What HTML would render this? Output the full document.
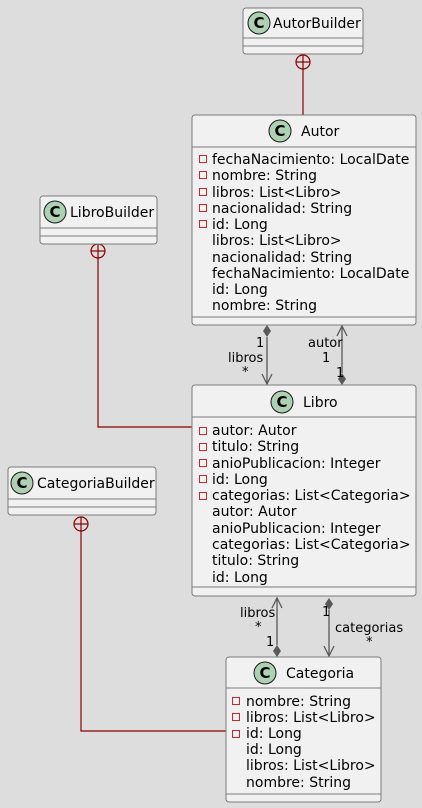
<!DOCTYPE html>
<html><head><meta charset="utf-8"><style>
html,body{margin:0;padding:0;background:#dddddd;}
svg{display:block;}
text{font-family:"DejaVu Sans","Liberation Sans",sans-serif;fill:#000;}
.a{font-size:14px;}
.n{font-size:14px;}
.l{font-size:13px;fill:#000;}
</style></head><body>
<svg width="422" height="808" viewBox="0 0 422 808" xmlns="http://www.w3.org/2000/svg">
<defs>
<g id="ci"><circle r="11" fill="#ADD1B2" stroke="#181818" stroke-width="1"/><text x="0" y="5" text-anchor="middle" style="font-size:15px;font-weight:bold">C</text></g>
<g id="pm"><rect x="-3.5" y="-3.5" width="7" height="7" fill="none" stroke="#C82930" stroke-width="1"/></g>
</defs>
<g stroke="#8B0000" stroke-width="1.2" fill="none">
<line x1="303" y1="69" x2="303" y2="115"/>
<circle cx="303" cy="62" r="7"/><line x1="296" y1="62" x2="310" y2="62"/><line x1="303" y1="55" x2="303" y2="69"/>
<polyline points="98,258 98,427 192,427"/>
<circle cx="98" cy="251" r="7"/><line x1="91" y1="251" x2="105" y2="251"/><line x1="98" y1="244" x2="98" y2="258"/>
<polyline points="81,531 81,731 226,731"/>
<circle cx="81" cy="524" r="7"/><line x1="74" y1="524" x2="88" y2="524"/><line x1="81" y1="517" x2="81" y2="531"/>
</g>
<g stroke="#595959" stroke-width="1.3" fill="none">
<line x1="267" y1="337" x2="267" y2="384"/><polyline points="262,374 267,384 272,374"/>
<line x1="342" y1="326" x2="342" y2="373"/><polyline points="337,336 342,326 347,336"/>
<line x1="277" y1="598" x2="277" y2="645"/><polyline points="272,608 277,598 282,608"/>
<line x1="329" y1="610" x2="329" y2="656"/><polyline points="324,646 329,656 334,646"/>
</g>
<g fill="#595959">
<polygon points="267,325 271,331 267,337 263,331"/>
<polygon points="342,373 346,379 342,385 338,379"/>
<polygon points="277,645 281,651 277,657 273,651"/>
<polygon points="329,598 333,604 329,610 325,604"/>
</g>
<text class="l" x="256" y="347">1</text>
<text class="l" x="228" y="362">libros</text>
<text class="l" x="242" y="376">*</text>
<text class="l" x="308" y="347">autor</text>
<text class="l" x="322" y="362">1</text>
<text class="l" x="336" y="377">1</text>
<text class="l" x="240" y="617">libros</text>
<text class="l" x="255" y="631">*</text>
<text class="l" x="266" y="646">1</text>
<text class="l" x="322" y="616">1</text>
<text class="l" x="335" y="632">categorias</text>
<text class="l" x="366" y="646">*</text>

<rect x="243" y="8" width="120" height="46" rx="3" fill="#F1F1F1" stroke="#7a7a7a" stroke-width="1"/>
<line x1="243" y1="38" x2="363" y2="38" stroke="#7a7a7a"/><line x1="243" y1="46" x2="363" y2="46" stroke="#7a7a7a"/>
<use href="#ci" x="259" y="23"/><text class="n" x="273" y="28">AutorBuilder</text>

<rect x="192" y="115" width="224" height="210" rx="3" fill="#F1F1F1" stroke="#7a7a7a"/>
<line x1="192" y1="147" x2="416" y2="147" stroke="#7a7a7a"/><line x1="192" y1="317" x2="416" y2="317" stroke="#7a7a7a"/>
<use href="#ci" x="280" y="131"/><text class="n" x="301" y="136">Autor</text>
<use href="#pm" x="203" y="159"/><use href="#pm" x="203" y="175"/><use href="#pm" x="203" y="192"/><use href="#pm" x="203" y="208"/><use href="#pm" x="203" y="224"/>
<text class="a" x="212" y="164">fechaNacimiento: LocalDate</text>
<text class="a" x="212" y="180">nombre: String</text>
<text class="a" x="212" y="197">libros: List&lt;Libro&gt;</text>
<text class="a" x="212" y="213">nacionalidad: String</text>
<text class="a" x="212" y="229">id: Long</text>
<text class="a" x="212" y="245">libros: List&lt;Libro&gt;</text>
<text class="a" x="212" y="262">nacionalidad: String</text>
<text class="a" x="212" y="278">fechaNacimiento: LocalDate</text>
<text class="a" x="212" y="294">id: Long</text>
<text class="a" x="212" y="310">nombre: String</text>

<rect x="40" y="196" width="117" height="48" rx="3" fill="#F1F1F1" stroke="#7a7a7a"/>
<line x1="40" y1="228" x2="157" y2="228" stroke="#7a7a7a"/><line x1="40" y1="236" x2="157" y2="236" stroke="#7a7a7a"/>
<use href="#ci" x="55" y="212"/><text class="n" x="70" y="217">LibroBuilder</text>

<rect x="192" y="385" width="224" height="211" rx="3" fill="#F1F1F1" stroke="#7a7a7a"/>
<line x1="192" y1="417" x2="416" y2="417" stroke="#7a7a7a"/><line x1="192" y1="587" x2="416" y2="587" stroke="#7a7a7a"/>
<use href="#ci" x="282" y="402"/><text class="n" x="303" y="407">Libro</text>
<use href="#pm" x="203" y="431"/><use href="#pm" x="203" y="447"/><use href="#pm" x="203" y="463"/><use href="#pm" x="203" y="479"/><use href="#pm" x="203" y="496"/>
<text class="a" x="212" y="435">autor: Autor</text>
<text class="a" x="212" y="451">titulo: String</text>
<text class="a" x="212" y="468">anioPublicacion: Integer</text>
<text class="a" x="212" y="484">id: Long</text>
<text class="a" x="212" y="500">categorias: List&lt;Categoria&gt;</text>
<text class="a" x="212" y="516">autor: Autor</text>
<text class="a" x="212" y="533">anioPublicacion: Integer</text>
<text class="a" x="212" y="549">categorias: List&lt;Categoria&gt;</text>
<text class="a" x="212" y="565">titulo: String</text>
<text class="a" x="212" y="582">id: Long</text>

<rect x="8" y="467" width="148" height="48" rx="3" fill="#F1F1F1" stroke="#7a7a7a"/>
<line x1="8" y1="499" x2="156" y2="499" stroke="#7a7a7a"/><line x1="8" y1="507" x2="156" y2="507" stroke="#7a7a7a"/>
<use href="#ci" x="22" y="483"/><text class="n" x="37" y="488">CategoriaBuilder</text>

<rect x="226" y="657" width="155" height="145" rx="3" fill="#F1F1F1" stroke="#7a7a7a"/>
<line x1="226" y1="688" x2="381" y2="688" stroke="#7a7a7a"/><line x1="226" y1="794" x2="381" y2="794" stroke="#7a7a7a"/>
<use href="#ci" x="265" y="673"/><text class="n" x="286" y="678">Categoria</text>
<use href="#pm" x="236" y="701"/><use href="#pm" x="236" y="717"/><use href="#pm" x="236" y="734"/>
<text class="a" x="246" y="706">nombre: String</text>
<text class="a" x="246" y="722">libros: List&lt;Libro&gt;</text>
<text class="a" x="246" y="738">id: Long</text>
<text class="a" x="246" y="754">id: Long</text>
<text class="a" x="246" y="770">libros: List&lt;Libro&gt;</text>
<text class="a" x="246" y="787">nombre: String</text>
</svg>
</body></html>
